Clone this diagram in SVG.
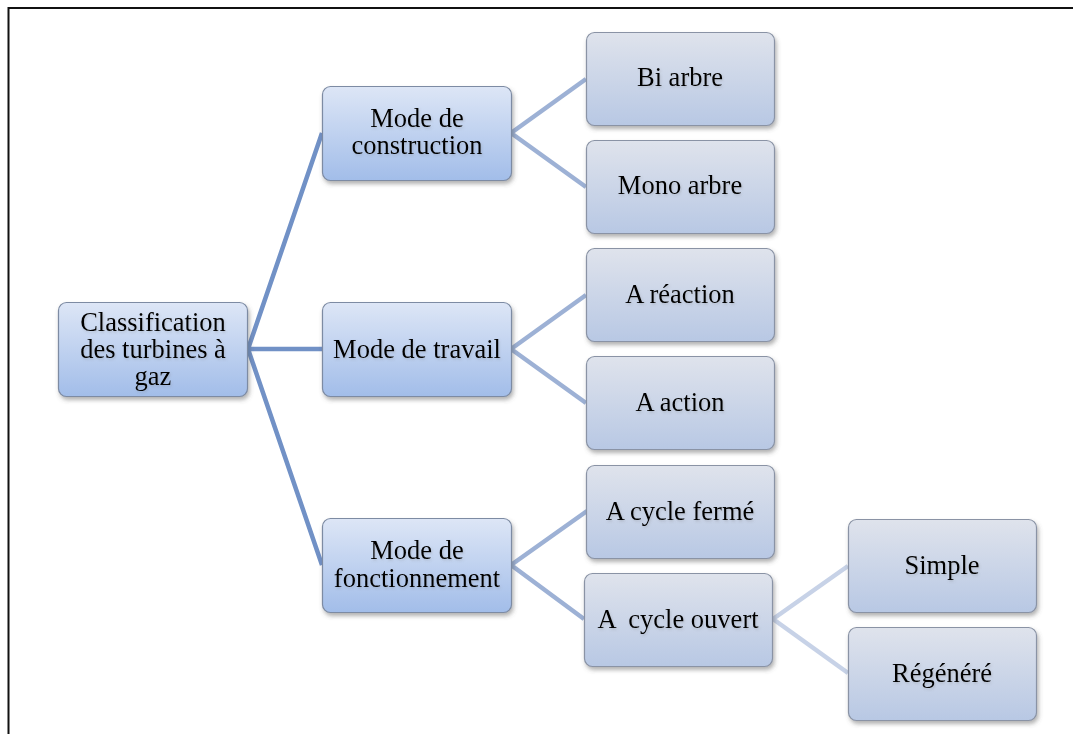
<svg xmlns="http://www.w3.org/2000/svg" width="1073" height="734" viewBox="0 0 1073 734">
<defs>
<linearGradient id="gA" x1="0" y1="0" x2="0" y2="1">
<stop offset="0" stop-color="#dde6f6"/>
<stop offset="1" stop-color="#a2bde9"/>
</linearGradient>
<linearGradient id="gB" x1="0" y1="0" x2="0" y2="1">
<stop offset="0" stop-color="#dfe3ec"/>
<stop offset="1" stop-color="#b8c8e4"/>
</linearGradient>
<filter id="sh" x="-10%" y="-10%" width="125%" height="130%">
<feDropShadow dx="1.5" dy="3" stdDeviation="2" flood-color="#555" flood-opacity="0.45"/>
</filter>
<filter id="tsh" x="-10%" y="-30%" width="120%" height="160%">
<feDropShadow dx="1" dy="1.5" stdDeviation="1.2" flood-color="#666" flood-opacity="0.25"/>
</filter>
</defs>
<style>
.a{fill:url(#gA);stroke:#7d8ba3;stroke-width:1.2;filter:url(#sh)}
.b{fill:url(#gB);stroke:#8a93a5;stroke-width:1.2;filter:url(#sh)}
text{font-family:"Liberation Serif","Times New Roman",serif;font-size:26.5px;fill:#000;text-anchor:middle;filter:url(#tsh)}
.c1{stroke:#7191c6;stroke-width:4.5;fill:none}
.c2{stroke:#9db1d5;stroke-width:4.5;fill:none}
.c3{stroke:#c7d2e7;stroke-width:4.5;fill:none}
</style>
<rect x="8.5" y="8" width="1080" height="740" fill="none" stroke="#111" stroke-width="2"/>
<g id="connectors">
<path class="c1" d="M248 349 L322 133 M248 349 L322 349 M248 349 L322 565"/>
<path class="c2" d="M511 133 L586 79 M511 133 L586 187"/>
<path class="c2" d="M511 349 L586 295 M511 349 L586 403"/>
<path class="c2" d="M511 565 L587 511 M511 565 L584 619"/>
<path class="c3" d="M773 619 L848 566 M773 619 L848 673"/>
</g>
<g id="root">
<rect class="a" x="58.5" y="302.5" width="189" height="94" rx="8"/>
<text x="153" y="331">Classification</text>
<text x="153" y="358">des turbines à</text>
<text x="153" y="385">gaz</text>
</g>
<g id="construction">
<rect class="a" x="322.5" y="86.5" width="189" height="94" rx="8"/>
<text x="417" y="127">Mode de</text>
<text x="417" y="154">construction</text>
</g>
<g id="travail">
<rect class="a" x="322.5" y="302.5" width="189" height="94" rx="8"/>
<text x="417" y="358">Mode de travail</text>
</g>
<g id="fonctionnement">
<rect class="a" x="322.5" y="518.5" width="189" height="94" rx="8"/>
<text x="417" y="559">Mode de</text>
<text x="417" y="587">fonctionnement</text>
</g>
<g id="biarbre">
<rect class="b" x="586.5" y="32.5" width="188" height="93" rx="8"/>
<text x="680" y="86">Bi arbre</text>
</g>
<g id="monoarbre">
<rect class="b" x="586.5" y="140.5" width="188" height="93" rx="8"/>
<text x="680" y="194">Mono arbre</text>
</g>
<g id="reaction">
<rect class="b" x="586.5" y="248.5" width="188" height="93" rx="8"/>
<text x="680" y="303">A réaction</text>
</g>
<g id="action">
<rect class="b" x="586.5" y="356.5" width="188" height="93" rx="8"/>
<text x="680" y="411">A action</text>
</g>
<g id="ferme">
<rect class="b" x="586.5" y="465.5" width="188" height="93" rx="8"/>
<text x="680" y="520">A cycle fermé</text>
</g>
<g id="ouvert">
<rect class="b" x="584.5" y="573.5" width="188" height="93" rx="8"/>
<text x="678" y="628" xml:space="preserve">A  cycle ouvert</text>
</g>
<g id="simple">
<rect class="b" x="848.5" y="519.5" width="188" height="93" rx="8"/>
<text x="942" y="574">Simple</text>
</g>
<g id="regenere">
<rect class="b" x="848.5" y="627.5" width="188" height="93" rx="8"/>
<text x="942" y="682">Régénéré</text>
</g>
</svg>
